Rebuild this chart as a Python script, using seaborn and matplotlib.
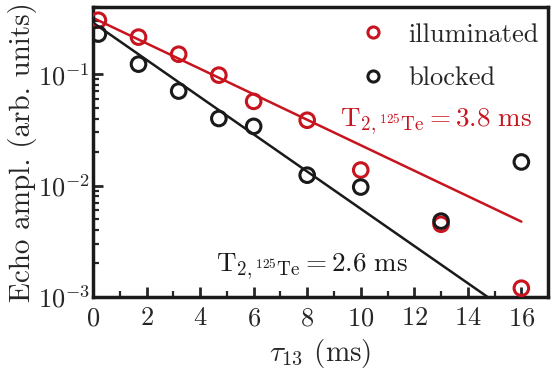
import numpy as np
import pandas as pd
import matplotlib
matplotlib.use("Agg")
import matplotlib.pyplot as plt
import seaborn as sns
from matplotlib.lines import Line2D

tau = [0.2, 1.7, 3.2, 4.7, 6.0, 8.0, 10.0, 13.0, 16.0]
illuminated = [0.305, 0.215, 0.151, 0.098, 0.057, 0.0386, 0.0138, 0.0045, 0.0012]
blocked = [0.229, 0.123, 0.0705, 0.040, 0.034, 0.0124, 0.0097, 0.0048, 0.0163]
fit_amp = {"illuminated": 0.32, "blocked": 0.29}
fit_T2 = {"illuminated": 3.8, "blocked": 2.6}
fit_tmax = {"illuminated": 16.0, "blocked": 15.2}
xticks = [0, 2, 4, 6, 8, 10, 12, 14, 16]

sns.set_style("ticks")
plt.rcParams["font.family"] = "serif"
plt.rcParams["font.serif"] = ["cmr10", "DejaVu Serif"]
plt.rcParams["mathtext.fontset"] = "cm"
plt.rcParams["axes.formatter.use_mathtext"] = True
plt.rcParams["axes.unicode_minus"] = False

red = "#c8141e"
black = "#1a1a1a"
palette = {"illuminated": red, "blocked": black}

df = pd.DataFrame({
    "tau": tau * 2,
    "amp": illuminated + blocked,
    "series": ["illuminated"] * len(tau) + ["blocked"] * len(tau),
})

fits = []
for s in ["illuminated", "blocked"]:
    t = np.linspace(0, fit_tmax[s], 200)
    fits.append(pd.DataFrame({"tau": t, "amp": fit_amp[s] * np.exp(-t / fit_T2[s]), "series": s}))
fit_df = pd.concat(fits)

fig = plt.figure(figsize=(5.52, 3.83), dpi=100)
ax = fig.add_axes([0.1685, 0.2245, 0.8245, 0.757])

sns.lineplot(data=fit_df, x="tau", y="amp", hue="series", palette=palette,
             lw=1.8, legend=False, ax=ax, sort=False)
sns.scatterplot(data=df, x="tau", y="amp", hue="series", palette=palette,
                marker="o", s=110, linewidth=2.2, ax=ax, zorder=5, legend=False)
for coll in ax.collections:
    fc = coll.get_facecolors()
    coll.set_edgecolors(fc)
    coll.set_facecolors("none")

ax.set_yscale("log")
ax.set_xlim(0, 17)
ax.set_ylim(1e-3, 0.4)
ax.set_xticks(xticks)
ax.set_xticks(np.arange(1, 17, 2), minor=True)
ax.tick_params(axis="both", which="major", direction="in", length=7, width=2,
               labelsize=19, top=False, right=False)
ax.tick_params(axis="both", which="minor", direction="in", length=4, width=1.6,
               top=False, right=False)
ax.tick_params(axis="x", pad=7)
ax.tick_params(axis="y", pad=2)
for sp in ax.spines.values():
    sp.set_linewidth(2.5)
    sp.set_color("#1a1a1a")

ax.set_xlabel(r"$\tau_{13}$ (ms)", fontsize=21, labelpad=5)
ax.set_ylabel("Echo ampl. (arb. units)", fontsize=21, labelpad=0)
ax.yaxis.set_label_coords(-0.122, 0.5)

h = [Line2D([], [], ls="none", marker="o", ms=8, mfc="none", mec=palette[s], mew=2.2)
     for s in ["illuminated", "blocked"]]
ax.legend(h, ["illuminated", "blocked"], loc="upper right", frameon=False,
          fontsize=19, handletextpad=0.6, labelspacing=0.75, handlelength=1.5,
          bbox_to_anchor=(1.015, 1.0), borderaxespad=0.2)

ax.text(0.965, 0.605, r"$\mathrm{T}_{2,{}^{125}\mathrm{Te}} = 3.8\ \mathrm{ms}$",
        transform=ax.transAxes, color=red, fontsize=19.5, ha="right", va="center")
ax.text(0.27, 0.105, r"$\mathrm{T}_{2,{}^{125}\mathrm{Te}} = 2.6\ \mathrm{ms}$",
        transform=ax.transAxes, color=black, fontsize=19.5, ha="left", va="center")

fig.savefig("out.png", dpi=100)
